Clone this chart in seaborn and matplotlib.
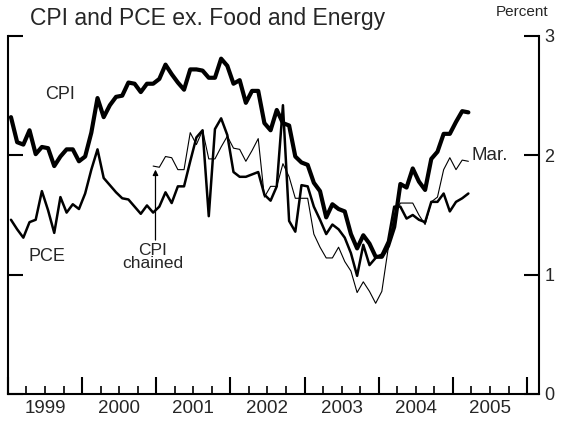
import numpy as np
import matplotlib
matplotlib.use("Agg")
import matplotlib.pyplot as plt
import seaborn as sns

# Monthly 12-month changes, Jan 1999 - Mar 2005 (percent)
cpi = [2.32, 2.11, 2.09, 2.21, 2.01, 2.07, 2.06, 1.91, 1.99, 2.05, 2.05, 1.95,
       1.99, 2.19, 2.48, 2.32, 2.42, 2.49, 2.50, 2.61, 2.60, 2.53, 2.60, 2.60,
       2.64, 2.76, 2.68, 2.61, 2.55, 2.72, 2.72, 2.71, 2.65, 2.65, 2.81, 2.75,
       2.60, 2.63, 2.44, 2.54, 2.54, 2.27, 2.21, 2.38, 2.27, 2.25, 1.99, 1.94,
       1.92, 1.77, 1.70, 1.48, 1.59, 1.55, 1.53, 1.34, 1.22, 1.33, 1.26, 1.15,
       1.15, 1.24, 1.40, 1.76, 1.73, 1.89, 1.78, 1.71, 1.97, 2.03, 2.18, 2.18,
       2.28, 2.37, 2.36]
pce = [1.46, 1.38, 1.31, 1.44, 1.46, 1.70, 1.54, 1.35, 1.65, 1.52, 1.59, 1.55,
       1.68, 1.88, 2.05, 1.81, 1.75, 1.69, 1.64, 1.63, 1.57, 1.51, 1.58, 1.52,
       1.57, 1.69, 1.60, 1.74, 1.74, 1.95, 2.15, 2.21, 1.49, 2.22, 2.31, 2.17,
       1.86, 1.82, 1.82, 1.84, 1.86, 1.67, 1.62, 1.74, 2.42, 1.45, 1.36, 1.75,
       1.74, 1.57, 1.46, 1.34, 1.42, 1.38, 1.31, 1.18, 0.99, 1.25, 1.08, 1.14,
       1.17, 1.28, 1.57, 1.57, 1.47, 1.50, 1.46, 1.44, 1.61, 1.61, 1.68, 1.53,
       1.61, 1.64, 1.68]
# chained CPI starts Dec 2000
chained_start = 23
cpi_chained = [1.91, 1.90, 1.99, 1.98, 1.88, 1.88, 2.19, 2.09, 2.21, 1.97, 1.97, 2.07, 2.16,
               2.06, 2.05, 1.95, 2.04, 2.14, 1.65, 1.74, 1.74, 1.93, 1.82, 1.64, 1.64,
               1.64, 1.34, 1.23, 1.14, 1.14, 1.23, 1.11, 1.03, 0.85, 0.94, 0.86, 0.76,
               0.86, 1.21, 1.50, 1.60, 1.60, 1.60, 1.50, 1.42, 1.61, 1.65, 1.88, 1.98,
               1.88, 1.96, 1.95]
years = list(range(1999, 2006))

# x as decimal year, mid-month
t = 1999 + (np.arange(len(cpi)) + 0.5) / 12
t_chained = t[chained_start:]

sns.set_theme(style="white")
plt.rcParams["font.family"] = ["Liberation Sans", "DejaVu Sans"]

fig = plt.figure(figsize=(5.63, 4.23), dpi=100)
ax = fig.add_axes([0.0140, 0.0686, 0.9433, 0.8463])

sns.lineplot(x=t, y=cpi, ax=ax, color="black", linewidth=3.0)
sns.lineplot(x=t, y=pce, ax=ax, color="black", linewidth=1.8)
sns.lineplot(x=t_chained, y=cpi_chained, ax=ax, color="black", linewidth=0.8)

ax.set_xlim(1999, 2006.16)
ax.set_ylim(0, 3)

for side in ["left", "right", "bottom"]:
    ax.spines[side].set_visible(True)
    ax.spines[side].set_color("black")
    ax.spines[side].set_linewidth(1.5)
ax.spines["top"].set_visible(False)

# x axis: year ticks (long), quarter ticks (short), year label mid-year
ax.set_xticks(list(range(1999, 2007)))
ax.set_xticklabels([""] * 8)
quarters = [y + q / 4 for y in years for q in (1, 2, 3)]
qlabels = [str(int(q)) if abs(q % 1 - 0.5) < 1e-6 else "" for q in quarters]
ax.set_xticks(quarters, minor=True)
ax.set_xticklabels(qlabels, minor=True)
ax.tick_params(axis="x", which="major", direction="in", length=12.5, width=1.5,
               bottom=True, color="black")
ax.tick_params(axis="x", which="minor", direction="in", length=6, width=1.2,
               bottom=True, color="black", labelsize=13.5, pad=4)

ax.set_yticks([0, 1, 2, 3])
ax.tick_params(axis="y", which="major", direction="in", length=11, width=1.5,
               left=True, right=True, labelleft=False, labelright=True,
               labelsize=13, pad=4, color="black")
ax.grid(False)

# labels
ax.text(1999.70, 2.51, "CPI", fontsize=13, ha="center", va="center")
ax.text(1999.53, 1.15, "PCE", fontsize=13, ha="center", va="center")
ax.text(2000.95, 1.15, "CPI\nchained", fontsize=12.5, ha="center", va="center",
        linespacing=0.8)
ax.annotate("", xy=(2000.99, 1.88), xytext=(2000.99, 1.29),
            arrowprops=dict(arrowstyle="-|>", color="black", lw=0.9,
                            mutation_scale=8, shrinkA=0, shrinkB=0))
ax.text(2005.25, 2.0, "Mar.", fontsize=13.5, ha="left", va="center")

fig.text(0.368, 0.957, "CPI and PCE ex. Food and Energy", fontsize=16.5,
         ha="center", va="center")
fig.text(0.927, 0.972, "Percent", fontsize=11, ha="center", va="center")

fig.savefig("out.png", dpi=100)
